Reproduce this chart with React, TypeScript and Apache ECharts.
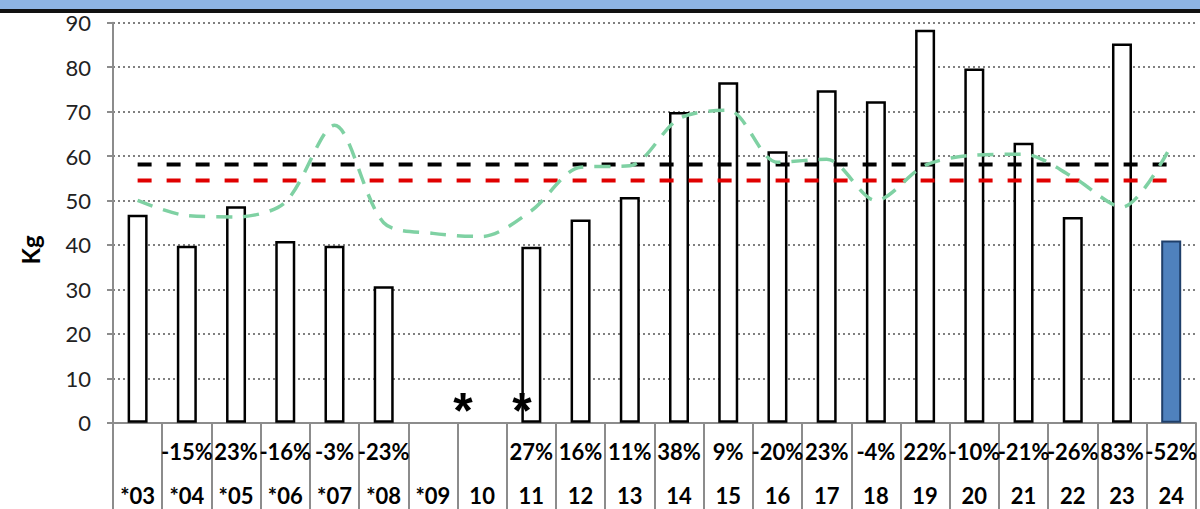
import React, { useEffect, useRef } from "react";
import * as echarts from "echarts";

const categories = ["*03", "*04", "*05", "*06", "*07", "*08", "*09", "10", "11", "12", "13", "14", "15", "16", "17", "18", "19", "20", "21", "22", "23", "24"];
const yieldKg = [46.8, 39.8, 48.7, 40.9, 39.8, 30.7, null, null, 39.6, 45.7, 50.8, 69.9, 76.6, 61.1, 74.8, 72.3, 88.4, 79.7, 63.0, 46.3, 85.3, 41.0];
const changePct = ["", "-15%", "23%", "-16%", "-3%", "-23%", "", "", "27%", "16%", "11%", "38%", "9%", "-20%", "23%", "-4%", "22%", "-10%", "-21%", "-26%", "83%", "-52%"];
const trend = [50.0, 46.6, 46.3, 49.6, 66.9, 45.0, 42.6, 41.9, 47.7, 57.5, 57.8, 68.4, 70.3, 58.6, 59.3, 50.0, 57.9, 60.2, 60.4, 55.3, 48.5, 62.4];
const avgLong = [58.1, 58.1, 58.1, 58.1, 58.1, 58.1, 58.1, 58.1, 58.1, 58.1, 58.1, 58.1, 58.1, 58.1, 58.1, 58.1, 58.1, 58.1, 58.1, 58.1, 58.1, 58.1];
const avgShort = [54.5, 54.5, 54.5, 54.5, 54.5, 54.5, 54.5, 54.5, 54.5, 54.5, 54.5, 54.5, 54.5, 54.5, 54.5, 54.5, 54.5, 54.5, 54.5, 54.5, 54.5, 54.5];
const yTicks = { min: 0, max: 90, interval: 10 };
const highlightIndex = 21;

export default function App() {
  const ref = useRef<HTMLDivElement>(null);
  useEffect(() => {
    if (!ref.current) return;
    const chart = echarts.init(ref.current, null, { renderer: "svg" });
    const gray = "#8c8c8c";
    chart.setOption({
      animation: false,
      backgroundColor: "#ffffff",
      grid: { left: 113, right: 1, top: 22.7, bottom: 86.3, containLabel: false },
      xAxis: {
        type: "category",
        data: categories,
        boundaryGap: true,
        axisLine: { show: true, lineStyle: { color: gray, width: 2 } },
        axisTick: { show: true, interval: 0, length: 90, lineStyle: { color: gray, width: 2 } },
        axisLabel: {
          interval: 0,
          margin: 7,
          formatter: (v: string, i: number) => `{p|${changePct[i] || " "}}\n{c|${v}}`,
          rich: {
            p: { fontFamily: "Lato", fontWeight: "bold", fontSize: 22, color: "#000", lineHeight: 44 },
            c: { fontFamily: "Lato", fontWeight: "bold", fontSize: 22, color: "#000", lineHeight: 44 },
          },
        },
      },
      yAxis: {
        type: "value",
        min: yTicks.min,
        max: yTicks.max,
        interval: yTicks.interval,
        axisLine: { show: true, lineStyle: { color: gray, width: 2 } },
        axisTick: { show: true, length: 6, lineStyle: { color: gray, width: 2 } },
        axisLabel: { margin: 22, fontFamily: "Lato", fontSize: 22, color: "#222" },
        splitLine: { show: true, lineStyle: { color: "#808080", width: 2, type: [2, 3] } },
      },
      series: [
        {
          type: "bar",
          data: yieldKg.map((v, i) =>
            i === highlightIndex
              ? { value: v, itemStyle: { color: "#4f81bd", borderColor: "#1f3f6a", borderWidth: 2 } }
              : v
          ),
          barWidth: 20,
          itemStyle: { color: "#ffffff", borderColor: "#000000", borderWidth: 2.5 },
          z: 2,
        },
        {
          type: "line",
          data: avgLong,
          symbol: "none",
          lineStyle: { color: "#000000", width: 4, type: [14, 15] },
          z: 3,
        },
        {
          type: "line",
          data: avgShort,
          symbol: "none",
          lineStyle: { color: "#e00000", width: 4, type: [14, 15] },
          z: 3,
        },
        {
          type: "line",
          data: trend,
          smooth: 0.3,
          symbol: "none",
          lineStyle: { color: "#7fd1a3", width: 3.5, type: [16, 11] },
          z: 4,
        },
      ],
      graphic: [
        { type: "rect", left: 0, top: 0, shape: { x: 0, y: 0, width: 1200, height: 9 }, style: { fill: "#8eb4e3" }, z: 10 },
        { type: "rect", left: 0, top: 9, shape: { x: 0, y: 0, width: 1200, height: 4 }, style: { fill: "#111111" }, z: 10 },
        {
          type: "text",
          x: 30,
          y: 250,
          rotation: Math.PI / 2,
          style: { text: "Kg", fontFamily: "Lato", fontWeight: "bold", fontSize: 24, fill: "#000", align: "center", verticalAlign: "middle" },
          z: 10,
        },
        {
          type: "text",
          x: 463,
          y: 411,
          style: { text: "*", fontFamily: "Liberation Sans", fontWeight: "bold", fontSize: 50, fill: "#000", align: "center", verticalAlign: "middle" },
          z: 10,
        },
        {
          type: "text",
          x: 522,
          y: 411,
          style: { text: "*", fontFamily: "Liberation Sans", fontWeight: "bold", fontSize: 50, fill: "#000", align: "center", verticalAlign: "middle" },
          z: 10,
        },
      ],
    });
    return () => chart.dispose();
  }, []);
  return <div ref={ref} style={{ position: "absolute", left: 0, top: 0, width: 1200, height: 509 }} />;
}
